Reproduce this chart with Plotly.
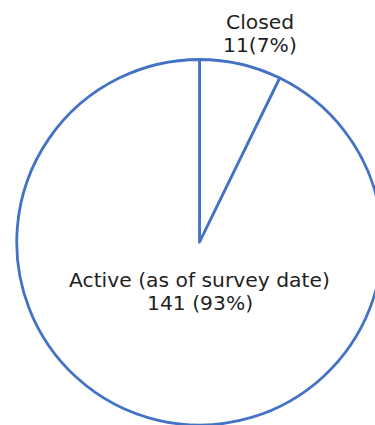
import plotly.graph_objects as go

# Business status counts
labels = ["Closed", "Active (as of survey date)"]
values = [11, 141]
count_formats = ["{v}({p}%)", "{v} ({p}%)"]

W, H = 400, 425
LINE = "#4472C4"
TEXT = "#1f1f1f"
FONT = "DejaVu Sans"

fig = go.Figure(
    go.Pie(
        labels=labels,
        values=values,
        sort=False,
        direction="clockwise",
        rotation=0,
        textinfo="none",
        hoverinfo="label+value+percent",
        marker=dict(colors=["white", "white"], line=dict(color=LINE, width=2.8)),
        domain=dict(x=[16.5 / W, 382.5 / W], y=[0, (H - 59.5) / H]),
        showlegend=False,
    )
)

total = sum(values)
pcts = [round(v * 100 / total) for v in values]

# label anchor positions (pixels from left / top)
label_pos = [(259.5, 22, 45), (199.5, 280, 303)]

annotations = []
for lab, v, p, fmt, (px, y1, y2) in zip(labels, values, pcts, count_formats, label_pos):
    for txt, py in ((lab, y1), (fmt.format(v=v, p=p), y2)):
        annotations.append(
            dict(
                text=txt,
                x=px / W,
                y=1 - py / H,
                xref="paper",
                yref="paper",
                xanchor="center",
                yanchor="middle",
                showarrow=False,
                font=dict(family=FONT, size=20.3, color=TEXT),
            )
        )

fig.update_layout(
    width=W,
    height=H,
    margin=dict(l=0, r=0, t=0, b=0),
    paper_bgcolor="white",
    plot_bgcolor="white",
    annotations=annotations,
)

fig.write_html(
    "out.html",
    config={"displayModeBar": False},
    post_script=(
        "document.body.style.margin='0';"
        "document.body.style.overflow='hidden';"
        "document.documentElement.style.overflow='hidden';"
    ),
)
